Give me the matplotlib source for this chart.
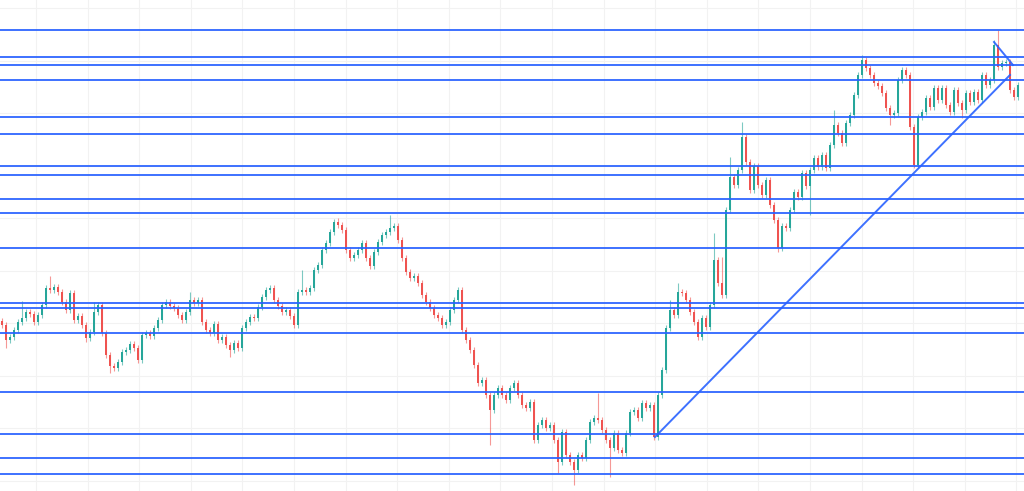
import numpy as np
import matplotlib
matplotlib.use("Agg")
import matplotlib.pyplot as plt

# closing prices, one per candle
closes = [
    166, 151, 154, 161, 169, 173, 179, 177, 169, 176, 186, 203, 201, 204, 199, 189,
    181, 198, 171, 175, 166, 153, 159, 179, 186, 158, 136, 125, 123, 129, 139, 141,
    147, 143, 131, 156, 158, 155, 163, 171, 186, 189, 185, 183, 176, 171, 179, 191,
    188, 191, 169, 161, 158, 167, 151, 154, 146, 141, 148, 143, 163, 169, 174, 173,
    184, 194, 201, 203, 191, 185, 179, 181, 175, 166, 199, 201, 199, 203, 221, 226,
    241, 248, 259, 269, 266, 261, 241, 233, 236, 241, 248, 233, 225, 239, 249, 256,
    259, 263, 265, 251, 233, 219, 213, 215, 208, 196, 189, 183, 176, 173, 166, 169,
    181, 191, 201, 161, 151, 141, 126, 108, 111, 96, 81, 96, 103, 96, 91, 103,
    108, 96, 86, 83, 89, 51, 66, 71, 63, 66, 51, 29, 59, 36, 29, 21,
    36, 33, 51, 69, 73, 71, 61, 51, 43, 58, 41, 38, 58, 79, 81, 73,
    88, 83, 86, 54, 96, 121, 163, 181, 176, 199, 198, 191, 179, 169, 154, 173,
    164, 186, 231, 208, 196, 281, 314, 306, 321, 354, 329, 301, 325, 306, 296, 311,
    286, 271, 243, 265, 263, 281, 299, 294, 318, 305, 321, 333, 324, 336, 323, 346,
    366, 358, 348, 368, 376, 396, 416, 431, 423, 416, 408, 405, 398, 383, 376, 378,
    411, 421, 416, 364, 326, 374, 379, 393, 384, 403, 391, 403, 386, 379, 401, 388,
    381, 398, 389, 399, 391, 416, 406, 411, 446, 424, 428, 429, 401, 394, 406,
]
first_open = 170

# notable wick extremes (candle index -> price)
high_marks = {5: 190, 11: 206, 12: 215, 23: 189, 47: 199, 75: 221, 84: 273,
              97: 276, 149: 98, 167: 191, 169: 208, 178: 258, 180: 234,
              182: 334, 185: 369, 208: 381, 215: 436, 248: 451, 249: 461}
low_marks = {1: 143, 21: 149, 27: 118, 57: 134, 122: 46, 139: 18, 143: 6,
             152: 14, 194: 239, 202: 276, 222: 366, 240: 373}

# horizontal levels and the two trend lines
levels = [461, 434, 426, 411, 374, 357, 325, 316, 292, 278, 243,
          188.5, 183.5, 158, 99, 57, 33, 17]
trend_up_x, trend_up_y = [163.25, 252], [54, 416]
trend_dn_x, trend_dn_y = [248, 252.75], [449, 426]

up_col = "#26a69a"
dn_col = "#ef5350"
line_col = "#2962ff"

closes = np.array(closes, dtype=float)
opens = np.concatenate([[first_open], closes[:-1]])
idx = np.arange(len(closes))
highs = np.maximum(opens, closes) + 3
lows = np.minimum(opens, closes) - 3
for k, v in high_marks.items():
    highs[k] = v
for k, v in low_marks.items():
    lows[k] = v

fig = plt.figure(figsize=(10.24, 4.91), dpi=100)
ax = fig.add_axes([0, 0, 1, 1])
ax.set_xlim(-0.5, 255.5)
ax.set_ylim(0, 491)

# faint grid
ax.set_xticks(np.arange(8.5, 256, 12.9))
ax.set_yticks(np.arange(483, 0, -52.5))
ax.grid(True, color="#f2f2f2", linewidth=0.8)
ax.tick_params(length=0, labelbottom=False, labelleft=False)
for s in ax.spines.values():
    s.set_visible(False)
ax.set_axisbelow(True)

rising = closes >= opens
colors = np.where(rising, up_col, dn_col)

ax.vlines(idx, lows, highs, colors=colors, linewidth=0.8, alpha=0.6, zorder=2)
body_h = np.abs(closes - opens)
body_h = np.maximum(body_h, 1.0)
ax.bar(idx, body_h, bottom=np.minimum(opens, closes), width=0.72,
       color=colors, linewidth=0, zorder=3)

for lv in levels:
    ax.axhline(lv, color=line_col, linewidth=1.4, alpha=0.9, zorder=4)
ax.plot(trend_up_x, trend_up_y, color=line_col, linewidth=1.4, alpha=0.9, zorder=4)
ax.plot(trend_dn_x, trend_dn_y, color=line_col, linewidth=1.4, alpha=0.9, zorder=4)

fig.savefig("out.png", dpi=100)
